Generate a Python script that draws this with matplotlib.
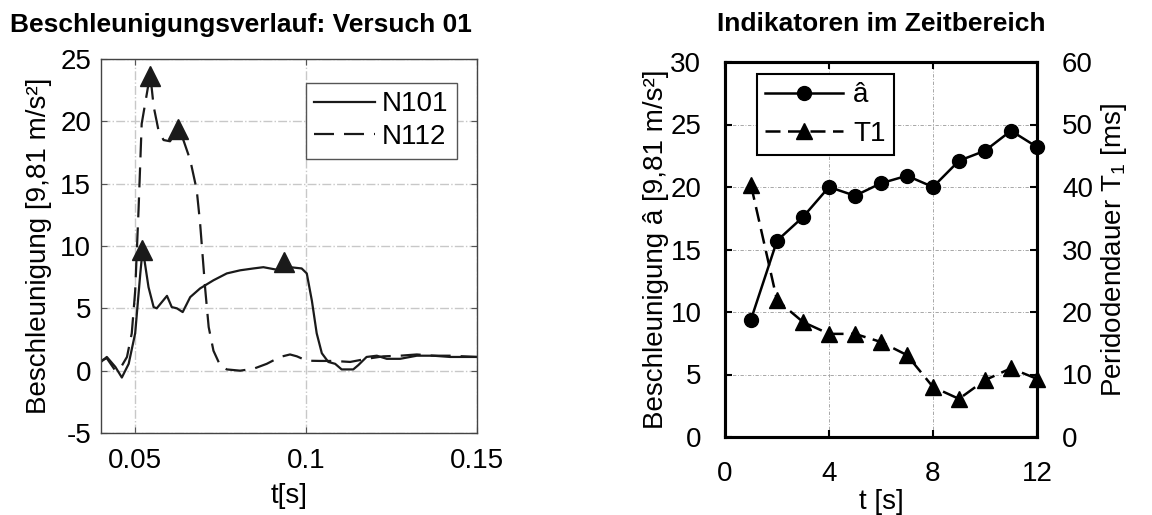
import numpy as np
import matplotlib.pyplot as plt

plt.rcParams['font.family'] = ['Liberation Sans', 'DejaVu Sans']
plt.rcParams['mathtext.fontset'] = 'custom'
plt.rcParams['mathtext.rm'] = 'Liberation Sans'
plt.rcParams['axes.unicode_minus'] = False

# --- Versuch 01: Beschleunigungsverlauf ---
t_n101 = [0.0400, 0.0417, 0.0442, 0.0461, 0.0481, 0.0500, 0.0515, 0.0522, 0.0539, 0.0554,
          0.0563, 0.0578, 0.0593, 0.0607, 0.0622, 0.0639, 0.0661, 0.0690, 0.0729, 0.0768,
          0.0807, 0.0846, 0.0875, 0.0914, 0.0953, 0.0987, 0.1002, 0.1017, 0.1031, 0.1046,
          0.1065, 0.1085, 0.1104, 0.1138, 0.1153, 0.1177, 0.1207, 0.1236, 0.1275, 0.1324,
          0.1372, 0.1421, 0.1500]
a_n101 = [0.7, 1.1, 0.3, -0.55, 0.55, 3.0, 7.8, 9.8, 6.7, 5.1,
          5.0, 5.5, 6.0, 5.1, 5.0, 4.7, 5.9, 6.6, 7.25, 7.8,
          8.05, 8.2, 8.3, 8.1, 8.3, 8.2, 7.8, 5.6, 3.0, 1.4,
          0.7, 0.55, 0.1, 0.1, 0.45, 1.1, 1.2, 0.95, 0.95, 1.2,
          1.2, 1.1, 1.1]

t_n112 = [0.0400, 0.0417, 0.0442, 0.0461, 0.0476, 0.0490, 0.0500, 0.0510, 0.0519, 0.0544,
          0.0554, 0.0568, 0.0583, 0.0602, 0.0622, 0.0641, 0.0661, 0.0680, 0.0690, 0.0705,
          0.0715, 0.0729, 0.0749, 0.0768, 0.0807, 0.0846, 0.0885, 0.0924, 0.0953, 0.0973,
          0.1002, 0.1041, 0.1080, 0.1129, 0.1177, 0.1226, 0.1275, 0.1324, 0.1372, 0.1421,
          0.1500]
a_n112 = [0.8, 1.0, 0.0, 0.4, 1.1, 3.0, 6.4, 13.0, 19.8, 23.8,
          21.2, 19.3, 18.5, 18.4, 19.3, 18.5, 16.9, 14.5, 11.8, 6.5,
          3.5, 1.6, 0.4, 0.1, 0.0, 0.15, 0.55, 1.1, 1.3, 1.15,
          0.8, 0.78, 0.78, 0.7, 0.95, 1.15, 1.2, 1.3, 1.2, 1.2,
          1.1]

# Peaks (Dreiecke)
peak_t = [0.0521, 0.0544, 0.0624, 0.0936]
peak_a = [9.7, 23.6, 19.4, 8.7]

# --- Indikatoren im Zeitbereich ---
versuch = [1, 2, 3, 4, 5, 6, 7, 8, 9, 10, 11, 12]
a_hat = [9.4, 15.7, 17.6, 20.0, 19.3, 20.3, 20.9, 20.0, 22.1, 22.9, 24.5, 23.2]
T1 = [40.3, 21.9, 18.4, 16.5, 16.5, 15.2, 13.1, 8.0, 6.1, 9.1, 11.0, 9.3]

fs = 20
W, H = 1152, 515

fig = plt.figure(figsize=(11.52, 5.15), dpi=100)

# left plot
ax1 = fig.add_axes([101 / W, 1 - 433 / H, 376 / W, 374 / H])
ax1.plot(t_n101, a_n101, color='#1a1a1a', lw=1.6, label='N101')
ax1.plot(t_n112, a_n112, color='#1a1a1a', lw=1.6, dashes=(9, 4.5), label='N112')
ax1.plot(peak_t, peak_a, linestyle='none', marker='^', ms=15, color='#1a1a1a', clip_on=False)
ax1.set_xlim(0.04, 0.15)
ax1.set_ylim(-5, 25)
ax1.set_xticks([0.05, 0.1, 0.15])
ax1.set_xticklabels(['0.05', '0.1', '0.15'])
ax1.set_yticks([-5, 0, 5, 10, 15, 20, 25])
ax1.grid(True, color='#c8c8c8', linestyle='-.', lw=1)
ax1.tick_params(direction='in', labelsize=fs, top=True, right=True, length=4,
                color='#555555', pad=7)
ax1.tick_params(axis='x', pad=11)
for s in ax1.spines.values():
    s.set_color('#444444')
    s.set_linewidth(1)
ax1.set_xlabel('t[s]', fontsize=fs, labelpad=6)
ax1.set_ylabel('Beschleunigung [9,81 m/s²]', fontsize=fs, labelpad=6)
ax1.legend(loc='upper right', fontsize=fs, handlelength=2.2, handletextpad=0.25,
           labelspacing=0.25, fancybox=False, framealpha=1, edgecolor='#555555',
           borderpad=0.3, borderaxespad=0, bbox_to_anchor=(0.947, 0.936))
fig.text(10 / W, 1 - 25 / H, 'Beschleunigungsverlauf: Versuch 01', fontsize=19,
         fontweight='bold', va='center', ha='left')

# right plot
ax2 = fig.add_axes([725 / W, 1 - 437 / H, 312 / W, 375 / H])
ax3 = ax2.twinx()
l1, = ax2.plot(versuch, a_hat, color='black', lw=1.8, marker='o', ms=10,
               clip_on=False, label='â')
l2, = ax3.plot(versuch, T1, color='black', lw=1.8, dashes=(6, 3), marker='^', ms=11,
               clip_on=False, label='T1')
ax2.set_xlim(0, 12)
ax2.set_ylim(0, 30)
ax3.set_ylim(0, 60)
ax2.set_xticks([0, 4, 8, 12])
ax2.set_yticks([0, 5, 10, 15, 20, 25, 30])
ax3.set_yticks([0, 10, 20, 30, 40, 50, 60])
ax2.grid(True, color='#999999', linestyle=(0, (4, 2, 1, 2)), lw=0.6)
ax2.tick_params(direction='in', labelsize=fs, top=True, length=5, width=1.5, pad=17)
ax2.tick_params(axis='x', pad=17)
ax3.tick_params(direction='in', labelsize=fs, length=5, width=1.5, pad=18)
for s in ax3.spines.values():
    s.set_linewidth(2.2)
for s in ax2.spines.values():
    s.set_linewidth(2.2)
ax2.set_xlabel('t [s]', fontsize=fs, labelpad=2)
ax2.set_ylabel('Beschleunigung â [9,81 m/s²]', fontsize=fs, labelpad=1)
ax3.set_ylabel(r'Peridodendauer T$_\mathregular{1}$ [ms]', fontsize=fs, labelpad=4)
fig.text(881 / W, 1 - 24 / H, 'Indikatoren im Zeitbereich', fontsize=19,
         fontweight='bold', va='center', ha='center')
leg = ax3.legend([l1, l2], ['â', 'T1'], loc='upper left', fontsize=fs, handlelength=2.8,
                 handletextpad=0.35, labelspacing=0.45, fancybox=False, framealpha=1,
                 edgecolor='black', borderpad=0.3, borderaxespad=0,
                 bbox_to_anchor=(0.103, 0.968))
leg.get_frame().set_linewidth(1.5)

fig.savefig('out.png', dpi=100)
